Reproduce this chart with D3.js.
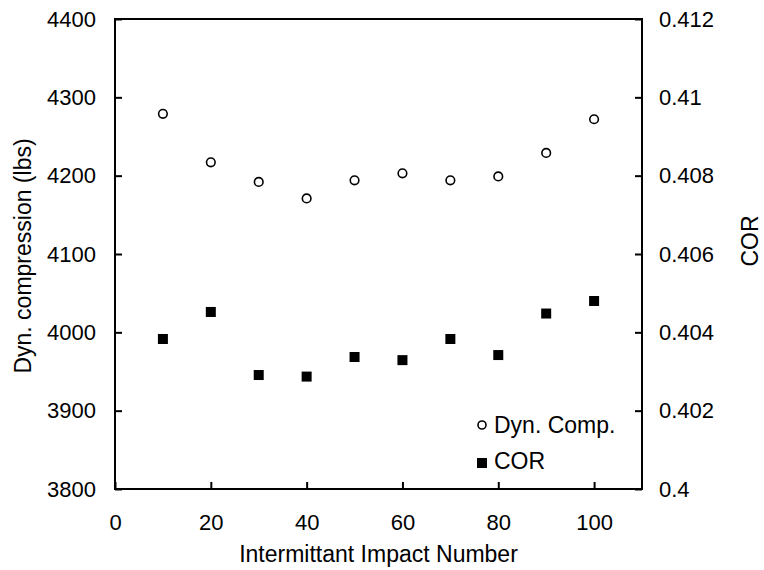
<!DOCTYPE html>
<html lang="en">
  <head>
    <meta charset="utf-8" />
    <title>Dyn. compression and COR</title>
    <script src="https://d3js.org/d3.v7.min.js"></script>
    <style>
      body { margin: 0; background: #fff; }
      text { font-family: "Liberation Sans", Arial, sans-serif; fill: #000; }
    </style>
  </head>
  <body>
    <script type="text/javascript">
      // data
      const impacts = [10, 20, 30, 40, 50, 60, 70, 80, 90, 100];
      const dynComp = [4279, 4217, 4192, 4171, 4194, 4203, 4194, 4199, 4229, 4272];
      const cor = [0.40383, 0.40452, 0.40291, 0.40287, 0.40337, 0.40329, 0.40383, 0.40342, 0.40448, 0.4048];

      const xTicks = [0, 20, 40, 60, 80, 100];
      const leftTicks = [3800, 3900, 4000, 4100, 4200, 4300, 4400];
      const rightTicks = [0.4, 0.402, 0.404, 0.406, 0.408, 0.41, 0.412];

      const w = 764;
      const h = 570;
      const plotLeft = 115, plotRight = 642, plotTop = 19, plotBottom = 489;

      const svg = d3.select("body").append("svg").attr("width", w).attr("height", h);

      const xScale = d3.scaleLinear().domain([0, 110]).range([plotLeft, plotRight]);
      const yLeft = d3.scaleLinear().domain([3800, 4400]).range([plotBottom, plotTop]);
      const yRight = d3.scaleLinear().domain([0.4, 0.412]).range([plotBottom, plotTop]);

      const xAxis = d3.axisBottom(xScale).tickValues(xTicks).tickSizeInner(-7).tickSizeOuter(0).tickPadding(25);
      const lAxis = d3.axisLeft(yLeft).tickValues(leftTicks).tickFormat(d3.format("d"))
        .tickSizeInner(-7).tickSizeOuter(0).tickPadding(19);
      const rAxis = d3.axisRight(yRight).tickValues(rightTicks)
        .tickFormat((d) => String(+d.toFixed(3)))
        .tickSizeInner(-7).tickSizeOuter(0).tickPadding(17);

      function styleAxis(g) {
        g.select(".domain").remove();
        g.selectAll(".tick line").attr("stroke", "#000").attr("stroke-width", 2);
        g.selectAll(".tick text").attr("font-size", "22px").attr("font-family", null);
      }

      svg.append("g").attr("transform", "translate(0," + plotBottom + ")").call(xAxis).call(styleAxis);
      svg.append("g").attr("transform", "translate(" + plotLeft + ",0)").call(lAxis).call(styleAxis);
      svg.append("g").attr("transform", "translate(" + plotRight + ",0)").call(rAxis).call(styleAxis);

      // frame
      svg.append("rect")
        .attr("x", plotLeft).attr("y", plotTop)
        .attr("width", plotRight - plotLeft).attr("height", plotBottom - plotTop)
        .attr("fill", "none").attr("stroke", "#000").attr("stroke-width", 2);

      // COR squares
      svg.selectAll("rect.cor")
        .data(impacts)
        .enter()
        .append("rect")
        .attr("class", "cor")
        .attr("x", (d) => xScale(d) - 5)
        .attr("y", (d, i) => yRight(cor[i]) - 5)
        .attr("width", 10)
        .attr("height", 10)
        .attr("fill", "#000");

      // dyn. compression circles
      svg.selectAll("circle.dyn")
        .data(impacts)
        .enter()
        .append("circle")
        .attr("class", "dyn")
        .attr("cx", (d) => xScale(d))
        .attr("cy", (d, i) => yLeft(dynComp[i]))
        .attr("r", 4.3)
        .attr("fill", "#fff")
        .attr("stroke", "#000")
        .attr("stroke-width", 1.6);

      // legend
      svg.append("circle").attr("cx", 482).attr("cy", 425).attr("r", 4)
        .attr("fill", "#fff").attr("stroke", "#000").attr("stroke-width", 1.6);
      svg.append("text").attr("x", 494).attr("y", 433).attr("font-size", "23px").text("Dyn. Comp.");
      svg.append("rect").attr("x", 477).attr("y", 458).attr("width", 10).attr("height", 10).attr("fill", "#000");
      svg.append("text").attr("x", 494).attr("y", 469).attr("font-size", "23px").text("COR");

      // axis titles
      svg.append("text")
        .attr("x", (plotLeft + plotRight) / 2).attr("y", 562)
        .attr("text-anchor", "middle").attr("font-size", "23px")
        .text("Intermittant Impact Number");

      svg.append("text")
        .attr("transform", "translate(31,256) rotate(-90)")
        .attr("text-anchor", "middle").attr("font-size", "23px")
        .text("Dyn. compression (lbs)");

      svg.append("text")
        .attr("transform", "translate(758,241) rotate(-90)")
        .attr("text-anchor", "middle").attr("font-size", "23px")
        .text("COR");
    </script>
  </body>
</html>
